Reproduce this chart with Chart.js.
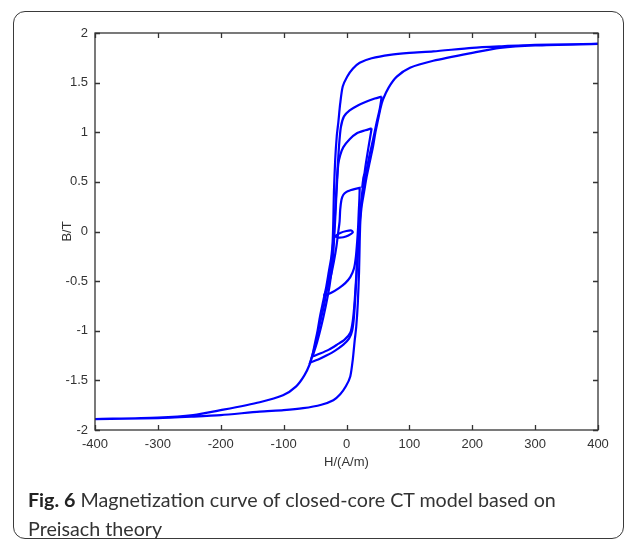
<!DOCTYPE html>
<html><head><meta charset="utf-8">
<script src="https://cdn.jsdelivr.net/npm/chart.js@4"></script>
<style>
html,body{margin:0;padding:0;background:#fff;}
#wrap{position:relative;width:637px;height:542px;overflow:hidden;background:#fff;}
#frame{position:absolute;left:13px;top:11px;width:609px;height:526px;border:1.5px solid #3a3a3a;border-radius:12px;}
#c{position:absolute;left:0;top:0;}
#cap{position:absolute;left:28px;top:485px;width:595px;font-family:Lato,"Open Sans",sans-serif;font-size:19.7px;line-height:29px;color:#333;}
#cap b{color:#222;}
</style></head>
<body><div id="wrap"><div id="frame"></div><canvas id="c" width="637" height="542"></canvas>
<div id="cap"><b>Fig. 6</b> Magnetization curve of closed-core CT model based on<br>Preisach theory</div></div>
<script>
// ---- data (H in A/m, B in T) ----
const xTicks = [-400,-300,-200,-100,0,100,200,300,400];
const yTicks = [-2,-1.5,-1,-0.5,0,0.5,1,1.5,2];

const majorDesc = [[400,1.89],[300,1.88],[244,1.865],[200,1.85],[138,1.815],[100,1.80],[69,1.78],[40,1.745],[21,1.70],[10,1.64],[1,1.56],[-6,1.46],[-10,1.29],[-13,1.10],[-15.5,0.96],[-18,0.72],[-20,0.40],[-21,0.1],[-22,-0.1],[-24,-0.25],[-28,-0.4],[-32,-0.55],[-37,-0.7],[-42,-0.85],[-46,-1.0],[-50,-1.12],[-54,-1.24],[-58,-1.33],[-67,-1.45],[-80,-1.56],[-101,-1.65],[-138,-1.72],[-200,-1.80],[-244,-1.85],[-300,-1.875],[-400,-1.89]];
const majorAsc = [[-400,-1.89],[-300,-1.88],[-244,-1.865],[-200,-1.85],[-138,-1.815],[-100,-1.80],[-69,-1.78],[-40,-1.745],[-21,-1.70],[-10,-1.64],[-1,-1.56],[6,-1.46],[10,-1.29],[13,-1.10],[15.5,-0.96],[18,-0.72],[20,-0.40],[21,-0.1],[22,0.1],[24,0.25],[28,0.4],[32,0.55],[37,0.7],[42,0.85],[46,1.0],[50,1.12],[54,1.24],[58,1.33],[67,1.45],[80,1.56],[101,1.65],[138,1.72],[200,1.80],[244,1.85],[300,1.875],[400,1.89]];

const loopADesc = [[56,1.36],[45,1.34],[32,1.31],[18,1.27],[5,1.22],[-4,1.16],[-9,1.05],[-12,0.85],[-15,0.55],[-18,0.2],[-21,-0.1],[-25,-0.35],[-30,-0.55],[-36,-0.75],[-42,-0.92],[-48,-1.1],[-53,-1.22],[-58,-1.32]];
const loopAAsc = [[-58,-1.32],[-45,-1.29],[-32,-1.25],[-18,-1.2],[-5,-1.14],[4,-1.08],[9,-1.0],[12,-0.85],[15,-0.55],[18,-0.2],[21,0.1],[25,0.35],[30,0.55],[36,0.75],[42,0.92],[48,1.1],[53,1.24],[56,1.36]];

const loopBDesc = [[40,1.04],[30,1.02],[16.5,0.99],[5,0.93],[-5,0.85],[-10,0.77],[-13,0.68],[-15,0.5],[-17,0.25],[-19,0],[-22,-0.3],[-27,-0.55],[-33,-0.75],[-40,-0.95],[-47,-1.12],[-54,-1.26]];
const loopBAsc = [[-54,-1.26],[-42,-1.23],[-28,-1.19],[-15,-1.14],[-3,-1.09],[6,-1.02],[10,-0.9],[13,-0.7],[16,-0.4],[19,-0.1],[22,0.2],[26,0.45],[30,0.65],[35,0.85],[40,1.04]];

const loopCAsc = [[-36,-0.65],[-25,-0.62],[-12,-0.57],[-2,-0.52],[6,-0.46],[12,-0.37],[15,-0.25],[17,-0.1],[18.5,0.05],[19.5,0.2],[20.5,0.33],[21,0.44]];
const loopCDesc = [[21,0.44],[14,0.43],[6,0.415],[0,0.40],[-5,0.37],[-8,0.32],[-10,0.22],[-11,0.1],[-13,0],[-16,-0.15],[-20,-0.3],[-25,-0.45],[-30,-0.56],[-36,-0.65]];

const loopD = [[-19,-0.05],[-10,-0.015],[0,0.005],[8,0.01],[10,-0.01],[3,-0.04],[-5,-0.058],[-13,-0.062],[-19,-0.05]];
const loopE = [[25,0.44],[29,0.5],[30,0.58],[28,0.57],[26,0.5],[25,0.44]];

const toPts = arr => arr.map(p => ({x:p[0], y:p[1]}));
const loops = [
  majorDesc.concat(majorAsc),
  loopADesc.concat(loopAAsc),
  loopBDesc.concat(loopBAsc),
  loopCAsc.concat(loopCDesc),
  loopD,
  loopE
];

const blue = 'rgb(0,0,255)';
const datasets = loops.map(l => ({
  data: toPts(l), showLine:true, borderColor:blue, backgroundColor:blue,
  borderWidth:2.2, pointRadius:0, tension:0.25, fill:false
}));

const boxPlugin = {
  id:'box',
  afterDatasetsDraw(chart){
    const {ctx, chartArea:a, scales:{x,y}} = chart;
    ctx.save();
    ctx.strokeStyle = '#333'; ctx.lineWidth = 1.3;
    ctx.strokeRect(a.left, a.top, a.right-a.left, a.bottom-a.top);
    ctx.beginPath();
    x.ticks.forEach(t => { const p = Math.round(x.getPixelForValue(t.value))+0.5;
      ctx.moveTo(p,a.bottom); ctx.lineTo(p,a.bottom-5); ctx.moveTo(p,a.top); ctx.lineTo(p,a.top+5); });
    y.ticks.forEach(t => { const p = Math.round(y.getPixelForValue(t.value))+0.5;
      ctx.moveTo(a.left,p); ctx.lineTo(a.left+5,p); ctx.moveTo(a.right,p); ctx.lineTo(a.right-5,p); });
    ctx.stroke();
    ctx.restore();
  }
};

const tickFont = {family:'"Liberation Sans", Arial, sans-serif', size:13};
new Chart(document.getElementById('c'), {
  type:'scatter',
  data:{datasets},
  options:{
    responsive:false, animation:false,
    layout:{padding:{left:60, top:33, right:39, bottom:72}},
    plugins:{legend:{display:false}, tooltip:{enabled:false}},
    scales:{
      x:{type:'linear', min:-400, max:400,
        afterBuildTicks: s => { s.ticks = xTicks.map(v => ({value:v})); },
        afterFit: s => { s.height = 40; },
        grid:{display:false, drawTicks:false}, border:{display:false},
        ticks:{font:tickFont, color:'#333', padding:7, maxRotation:0, callback: v => String(v)},
        title:{display:true, text:'H/(A/m)', font:tickFont, color:'#333', padding:0}
      },
      y:{type:'linear', min:-2, max:2,
        afterBuildTicks: s => { s.ticks = yTicks.map(v => ({value:v})); },
        afterFit: s => { s.width = 35; },
        grid:{display:false, drawTicks:false}, border:{display:false},
        ticks:{font:tickFont, color:'#333', padding:7, callback: v => String(v)},
        title:{display:true, text:'B/T', font:tickFont, color:'#333', padding:0}
      }
    }
  },
  plugins:[boxPlugin]
});
</script>
</body></html>
